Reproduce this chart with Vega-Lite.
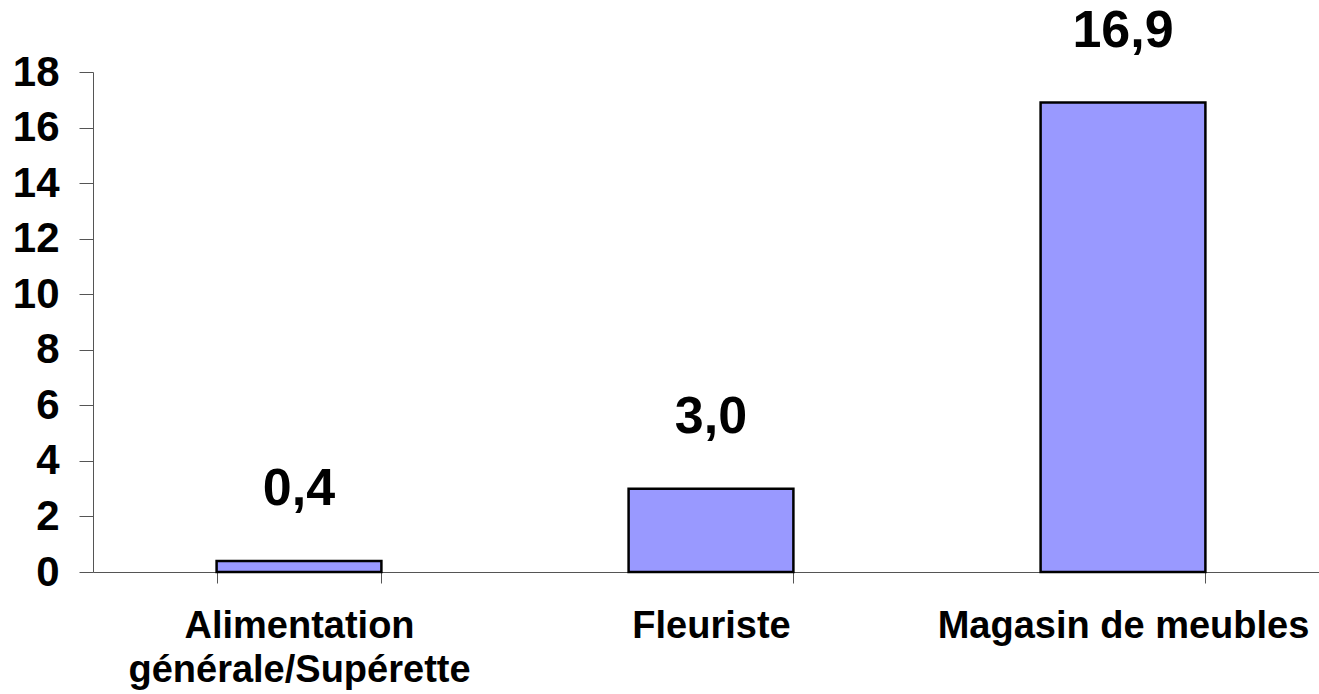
{
  "$schema": "https://vega.github.io/schema/vega-lite/v6.json",
  "width": 1226,
  "height": 500,
  "autosize": {"type": "none"},
  "padding": {"left": 93, "top": 72, "right": 0, "bottom": 122},
  "background": "white",
  "config": {
    "view": {"stroke": null},
    "font": "Liberation Sans",
    "locale": {
      "number": {"decimal": ",", "thousands": " ", "grouping": [3], "currency": ["", " €"]}
    }
  },
  "data": {
    "values": [
      {"category": "Alimentation générale/Supérette", "value": 0.4},
      {"category": "Fleuriste", "value": 3.0},
      {"category": "Magasin de meubles", "value": 16.9}
    ]
  },
  "encoding": {
    "x": {
      "field": "category",
      "type": "nominal",
      "sort": null,
      "scale": {"range": [0, 1236], "paddingInner": 0.6, "paddingOuter": 0.3},
      "axis": {
        "title": null,
        "labelAngle": 0,
        "labelFont": "Liberation Sans",
        "labelFontWeight": "bold",
        "labelFontSize": 38,
        "labelColor": "black",
        "labelPadding": 24,
        "labelLineHeight": 44,
        "labelLimit": 0,
        "labelExpr": "datum.value == 'Alimentation générale/Supérette' ? ['Alimentation', 'générale/Supérette'] : datum.label",
        "tickBand": "extent",
        "tickSize": 11,
        "tickColor": "#555",
        "domainColor": "#555",
        "grid": false
      }
    },
    "y": {
      "field": "value",
      "type": "quantitative",
      "scale": {"domain": [0, 18], "nice": false},
      "axis": {
        "title": null,
        "values": [0, 2, 4, 6, 8, 10, 12, 14, 16, 18],
        "labelFont": "Liberation Sans",
        "labelFontWeight": "bold",
        "labelFontSize": 42,
        "labelColor": "black",
        "labelPadding": 20,
        "tickSize": 14,
        "tickColor": "#555",
        "domainColor": "#555",
        "grid": false
      }
    }
  },
  "layer": [
    {
      "mark": {"type": "bar", "fill": "#9999FF", "stroke": "black", "strokeWidth": 2.5}
    },
    {
      "mark": {"type": "text", "font": "Liberation Sans", "fontWeight": "bold", "fontSize": 52, "color": "black", "baseline": "alphabetic", "dy": -56},
      "encoding": {
        "text": {"field": "value", "type": "quantitative", "format": ".1f", "formatType": "number"}
      }
    }
  ]
}
